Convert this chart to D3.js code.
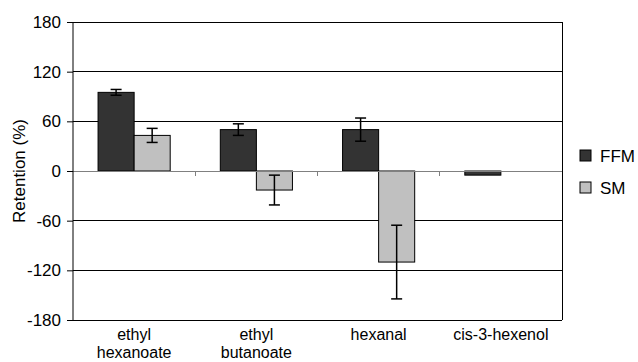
<!DOCTYPE html>
<meta charset="utf-8">
<script src="https://d3js.org/d3.v7.min.js"></script>
<style>
  body { margin: 0; background: #fff; }
  text { font-family: "Liberation Sans", Arial, sans-serif; }
</style>
<div id="chart"></div>
<script>
// data
var compounds = [["ethyl", "hexanoate"], ["ethyl", "butanoate"], ["hexanal"], ["cis-3-hexenol"]];
var seriesNames = ["FFM", "SM"];
var seriesColors = ["#333333", "#c0c0c0"];
var ffmValues = [95, 50, 50, -5];
var ffmErrors = [3.5, 7, 14, 0];
var smValues = [43, -23, -110, null];
var smErrors = [8.5, 18, 44.5, 0];
var yTicks = [-180, -120, -60, 0, 60, 120, 180];

var W = 638, H = 362;
var margin = {top: 22, left: 73, right: 76, bottom: 42};
var width = W - margin.left - margin.right,
    height = H - margin.top - margin.bottom;
var fs = "17px";

var svg = d3.select("#chart").append("svg")
    .attr("width", W).attr("height", H);
var g = svg.append("g")
    .attr("transform", "translate(" + margin.left + "," + margin.top + ")");

var x = d3.scaleBand().domain(d3.range(compounds.length)).range([0, width]);
var y = d3.scaleLinear().domain([-180, 180]).range([height, 0]);

// gridlines
g.append("g").selectAll("line")
  .data(yTicks.filter(function (d) { return d !== 0 && d !== -180; }))
  .enter().append("line")
    .attr("x1", 0).attr("x2", width)
    .attr("y1", function (d) { return y(d); })
    .attr("y2", function (d) { return y(d); })
    .attr("stroke", "#000").attr("stroke-width", 1)
    .attr("shape-rendering", "crispEdges");

// right border
g.append("line")
  .attr("x1", width).attr("x2", width).attr("y1", 0).attr("y2", height)
  .attr("stroke", "#000").attr("shape-rendering", "crispEdges");

// bars
var bw = x.bandwidth() * 0.295;
var series = [
  {values: ffmValues, errors: ffmErrors},
  {values: smValues, errors: smErrors}
];
series.forEach(function (s, si) {
  var items = s.values.map(function (v, i) { return {i: i, v: v, e: s.errors[i]}; })
    .filter(function (d) { return d.v !== null; });
  var bx = function (d) { return x(d.i) + x.bandwidth() / 2 - bw + si * bw; };
  g.append("g").selectAll("rect").data(items).enter().append("rect")
    .attr("x", bx)
    .attr("y", function (d) { return y(Math.max(0, d.v)); })
    .attr("width", bw)
    .attr("height", function (d) { return Math.abs(y(d.v) - y(0)); })
    .attr("fill", seriesColors[si])
    .attr("stroke", "#000").attr("stroke-width", 1);

  var eb = g.append("g").selectAll("g").data(items.filter(function (d) { return d.e > 0; }))
    .enter().append("g")
    .attr("stroke", "#000").attr("stroke-width", 1.5);
  eb.append("line")
    .attr("x1", function (d) { return bx(d) + bw / 2; })
    .attr("x2", function (d) { return bx(d) + bw / 2; })
    .attr("y1", function (d) { return y(d.v + d.e); })
    .attr("y2", function (d) { return y(d.v - d.e); });
  [1, -1].forEach(function (sgn) {
    eb.append("line")
      .attr("x1", function (d) { return bx(d) + bw / 2 - 5.5; })
      .attr("x2", function (d) { return bx(d) + bw / 2 + 5.5; })
      .attr("y1", function (d) { return y(d.v + sgn * d.e); })
      .attr("y2", function (d) { return y(d.v + sgn * d.e); });
  });
});

// zero line with category ticks
g.append("line")
  .attr("x1", 0).attr("x2", width).attr("y1", y(0)).attr("y2", y(0))
  .attr("stroke", "#808080").attr("shape-rendering", "crispEdges");
g.append("g").selectAll("line").data(d3.range(1, compounds.length)).enter().append("line")
  .attr("x1", function (d) { return x(d); }).attr("x2", function (d) { return x(d); })
  .attr("y1", y(0)).attr("y2", y(0) + 5)
  .attr("stroke", "#808080").attr("shape-rendering", "crispEdges");

// bottom axis line
g.append("line")
  .attr("x1", -6).attr("x2", width).attr("y1", height).attr("y2", height)
  .attr("stroke", "#000").attr("shape-rendering", "crispEdges");

// y axis
var yAxis = g.append("g")
  .call(d3.axisLeft(y).tickValues(yTicks).tickSize(6).tickPadding(6)
    .tickFormat(function (d) { return String(d); }));
yAxis.selectAll("line").attr("stroke", "#000");
yAxis.select(".domain").attr("stroke", "#000").attr("d", "M0,0V" + height);
yAxis.selectAll("text")
  .style("font-family", "'Liberation Sans', Arial, sans-serif")
  .style("font-size", fs).attr("fill", "#000");

// y label
svg.append("text")
  .attr("transform", "translate(25," + (margin.top + y(0)) + ") rotate(-90)")
  .attr("text-anchor", "middle")
  .style("font-size", fs)
  .text("Retention (%)");

// category labels
compounds.forEach(function (lines, i) {
  var t = g.append("text")
    .attr("text-anchor", "middle")
    .attr("x", x(i) + x.bandwidth() / 2)
    .attr("y", height + 20)
    .style("font-size", "16px");
  lines.forEach(function (l, k) {
    t.append("tspan").attr("x", x(i) + x.bandwidth() / 2)
      .attr("dy", k === 0 ? 0 : 18).text(l);
  });
});

// legend
var legend = svg.append("g").attr("transform", "translate(580,150)");
seriesNames.forEach(function (name, i) {
  legend.append("rect")
    .attr("x", 0).attr("y", i * 32)
    .attr("width", 11).attr("height", 11)
    .attr("fill", seriesColors[i]).attr("stroke", "#000");
  legend.append("text")
    .attr("x", 20).attr("y", i * 32 + 12)
    .style("font-size", fs)
    .text(name);
});
</script>
